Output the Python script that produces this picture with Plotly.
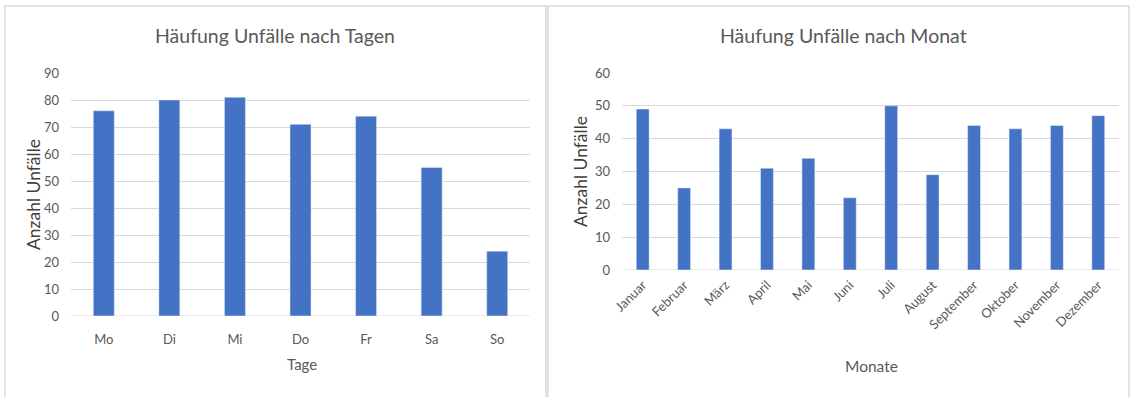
import plotly.graph_objects as go

# Unfallstatistik: Anzahl Unfälle nach Wochentag und nach Monat
tage = ["Mo", "Di", "Mi", "Do", "Fr", "Sa", "So"]
unfaelle_tage = [76, 80, 81, 71, 74, 55, 24]

monate = ["Januar", "Februar", "März", "April", "Mai", "Juni", "Juli",
          "August", "September", "Oktober", "November", "Dezember"]
unfaelle_monate = [49, 25, 43, 31, 34, 22, 50, 29, 44, 43, 44, 47]

W, H = 1130, 397
BAR = "#4472C4"
GRID = "#D9D9D9"
TXT = "#595959"
TITLE_DARK = "#404040"
FONT = "Lato, Open Sans, sans-serif"


def px_x(x):
    return x / W


def px_y(y):
    return 1 - y / H


fig = go.Figure()
fig.add_trace(go.Bar(x=tage, y=unfaelle_tage, marker_color=BAR, width=0.32,
                     xaxis="x", yaxis="y", showlegend=False))
fig.add_trace(go.Bar(x=monate, y=unfaelle_monate, marker_color=BAR, width=0.31,
                     xaxis="x2", yaxis="y2", showlegend=False))

# fixed margins: no automatic margin growth, so paper coords == pixels
axis_common = dict(showline=False, zeroline=False, ticks="", automargin=False,
                   tickfont=dict(family=FONT, size=13, color=TXT))

fig.update_layout(
    width=W, height=H,
    margin=dict(l=0, r=0, t=0, b=0, pad=0, autoexpand=False),
    paper_bgcolor="white", plot_bgcolor="white",
    xaxis=dict(domain=[px_x(71), px_x(530)], anchor="y", showgrid=False,
               ticklabelstandoff=14, **axis_common),
    yaxis=dict(domain=[px_y(316), px_y(73)], anchor="x", range=[0, 90],
               dtick=10, showgrid=True, gridcolor=GRID, gridwidth=1,
               ticklabelstandoff=11, **axis_common),
    xaxis2=dict(domain=[px_x(622), px_x(1119)], anchor="y2", showgrid=False,
                tickangle=-45, ticklabelstandoff=4, **axis_common),
    yaxis2=dict(domain=[px_y(270), px_y(73)], anchor="x2", range=[0, 60],
                dtick=10, showgrid=True, gridcolor=GRID, gridwidth=1,
                ticklabelstandoff=11, **axis_common),
)

# zero baselines drawn as gridline-coloured lines
fig.add_shape(type="line", xref="paper", yref="y", x0=px_x(71), x1=px_x(530),
              y0=0, y1=0, line=dict(color=GRID, width=1), layer="below")
fig.add_shape(type="line", xref="paper", yref="y2", x0=px_x(622), x1=px_x(1119),
              y0=0, y1=0, line=dict(color=GRID, width=1), layer="below")

# chart frames
for x0, x1 in [(5, 546), (548, 1129)]:
    fig.add_shape(type="rect", xref="paper", yref="paper",
                  x0=px_x(x0), x1=px_x(x1), y0=px_y(398), y1=px_y(6),
                  line=dict(color=GRID, width=1.5), fillcolor="rgba(0,0,0,0)")

annots = [
    dict(text="Häufung Unfälle nach Tagen", x=275, y=36, size=19.5, color=TXT),
    dict(text="Häufung Unfälle nach Monat", x=843, y=36, size=19.5, color=TXT),
    dict(text="Tage", x=302, y=364, size=15, color=TXT),
    dict(text="Monate", x=871, y=366, size=15.5, color=TXT),
    dict(text="Anzahl Unfälle", x=33, y=195, size=17.5, color=TITLE_DARK, angle=-90),
    dict(text="Anzahl Unfälle", x=580, y=172, size=17.5, color=TITLE_DARK, angle=-90),
]
for a in annots:
    fig.add_annotation(text=a["text"], xref="paper", yref="paper",
                       x=px_x(a["x"]), y=px_y(a["y"]), showarrow=False,
                       xanchor="center", yanchor="middle",
                       textangle=a.get("angle", 0),
                       font=dict(family=FONT, size=a["size"], color=a["color"]))

fig.write_html(
    "out.html",
    post_script="document.body.style.margin='0';",
)
